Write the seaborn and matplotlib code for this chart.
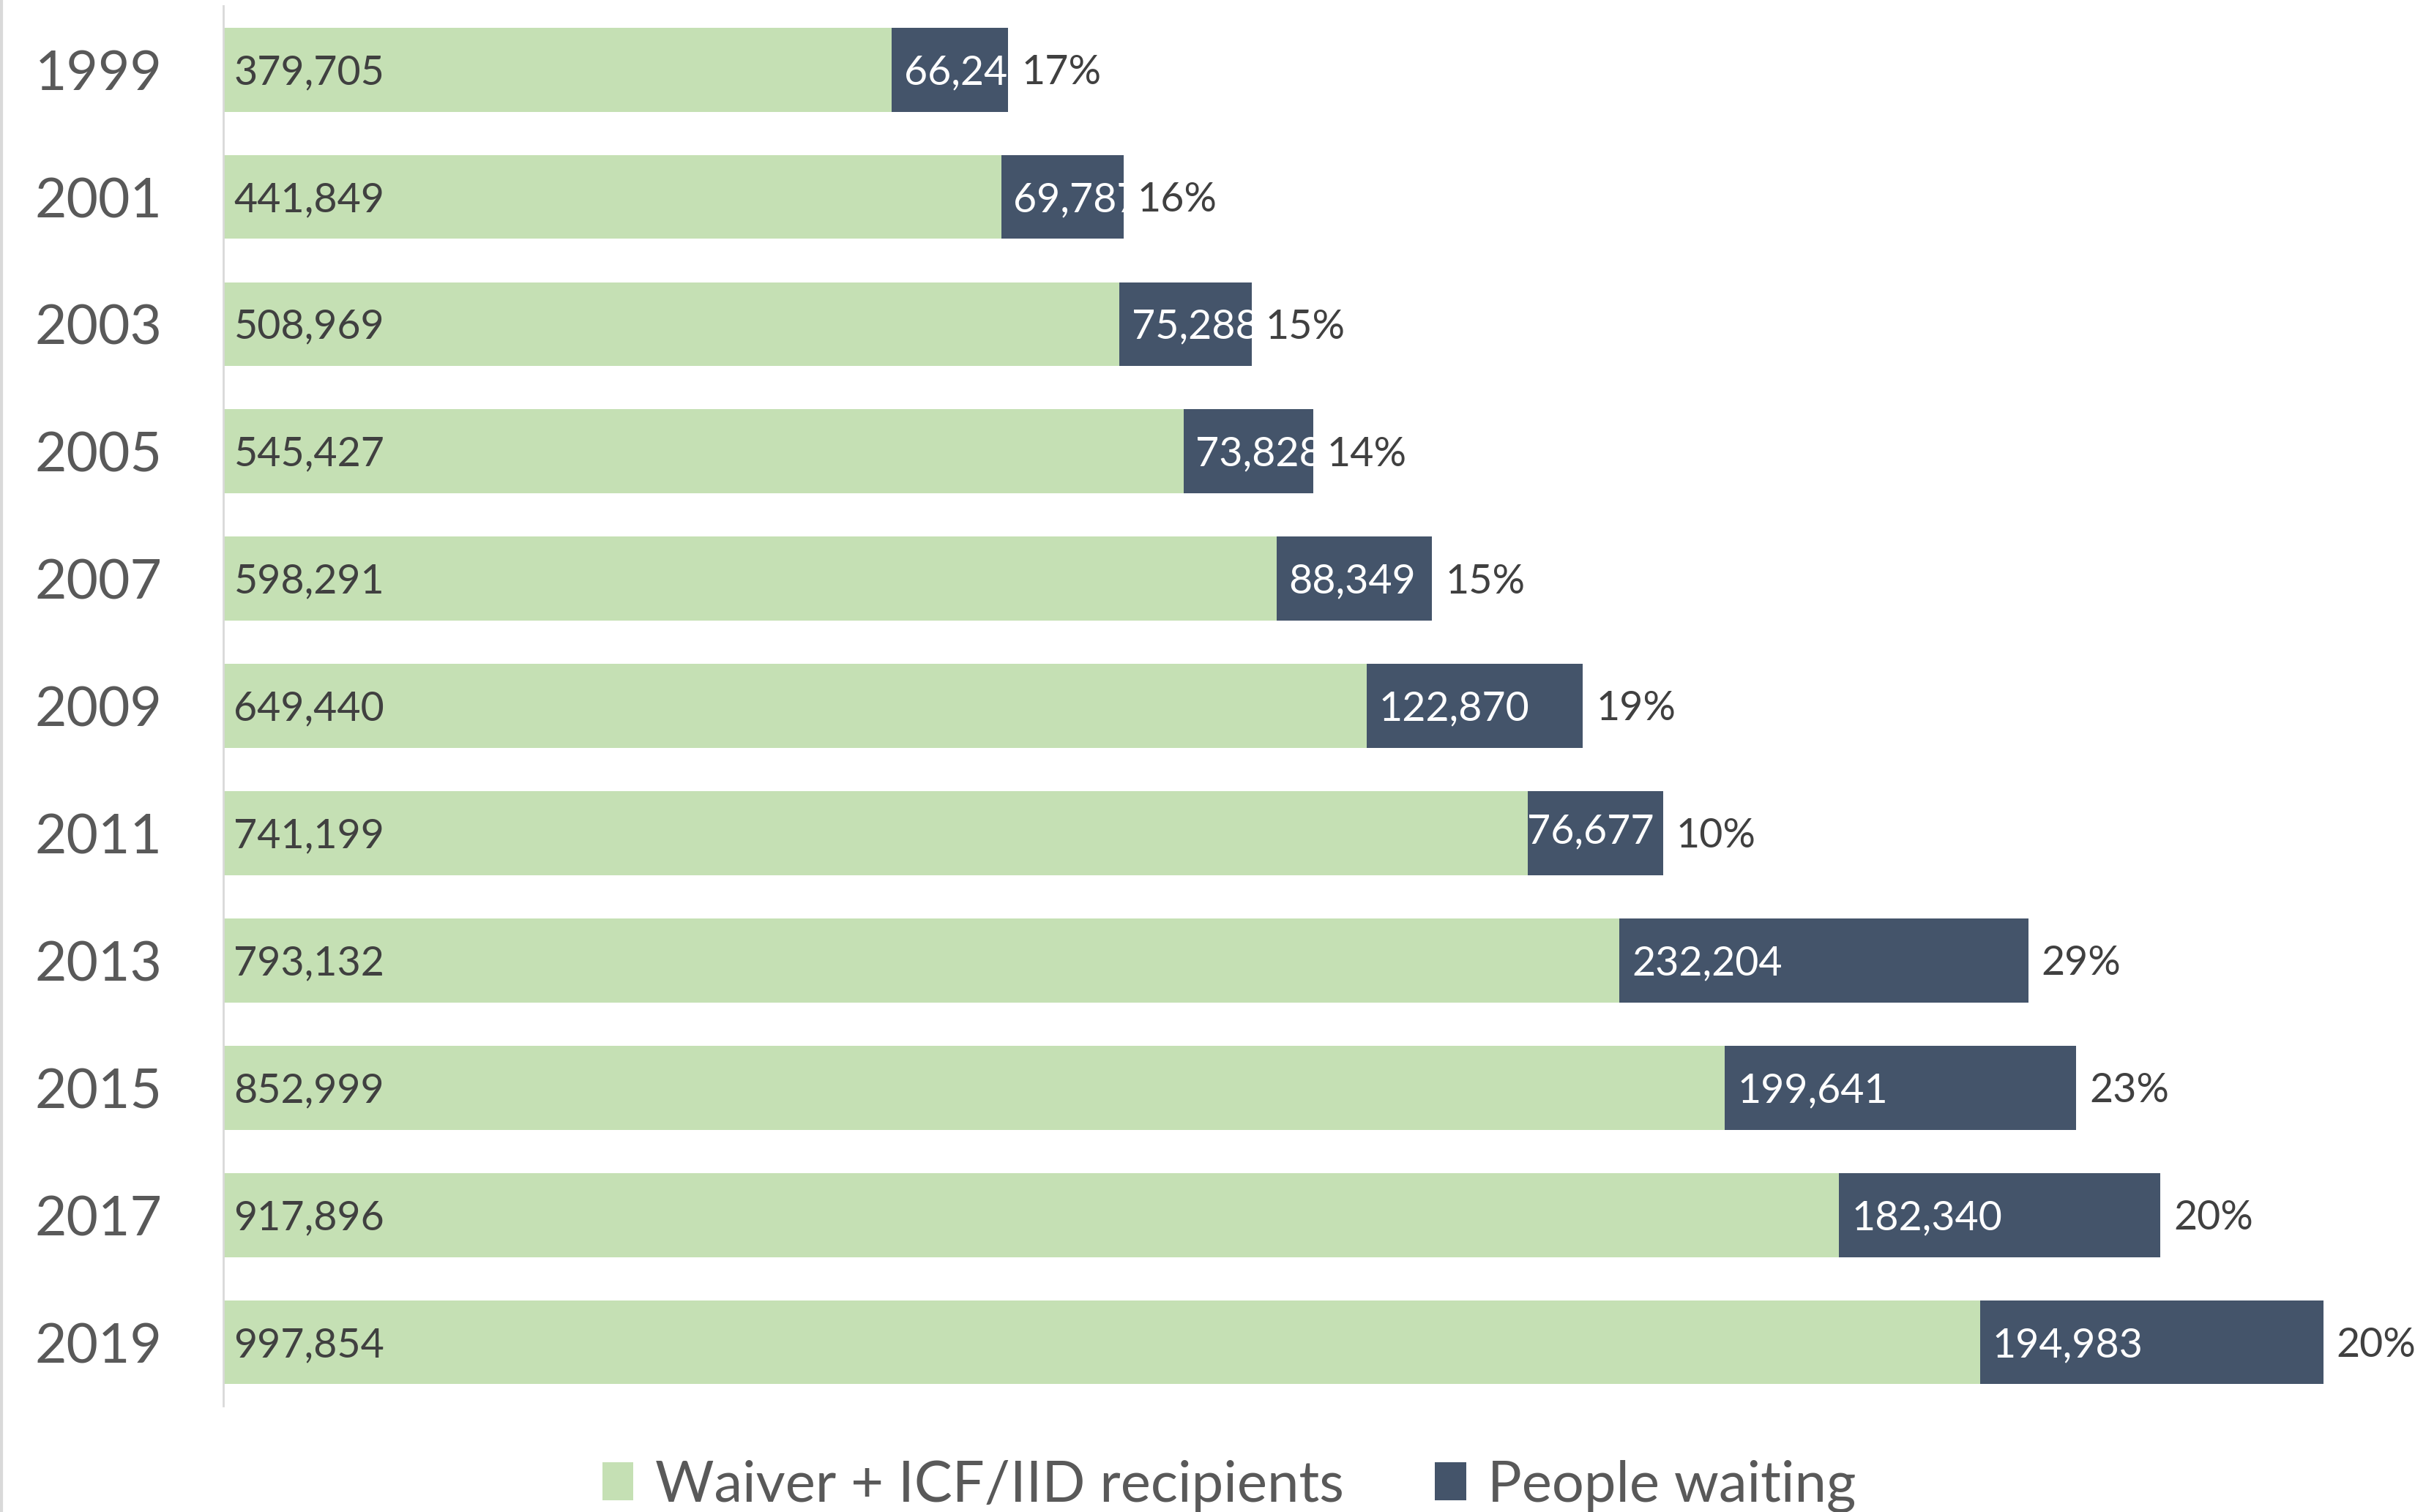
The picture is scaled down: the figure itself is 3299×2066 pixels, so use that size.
import matplotlib
matplotlib.use("Agg")
import matplotlib.pyplot as plt
from matplotlib.patches import Rectangle, Patch
from matplotlib.lines import Line2D
import seaborn as sns
import pandas as pd

years = ["1999", "2001", "2003", "2005", "2007", "2009", "2011", "2013", "2015", "2017", "2019"]
recipients = [379705, 441849, 508969, 545427, 598291, 649440, 741199, 793132, 852999, 917896, 997854]
waiting = [66246, 69787, 75288, 73828, 88349, 122870, 76677, 232204, 199641, 182340, 194983]
pct_labels = ["17%", "16%", "15%", "14%", "15%", "19%", "10%", "29%", "23%", "20%", "20%"]
series_names = ["Waiver + ICF/IID recipients", "People waiting"]

GREEN = "#c5e0b4"
DARK = "#44546a"
TXT = "#404040"
GREY = "#595959"

sns.set_theme(style="white")
plt.rcParams["font.family"] = ["Lato", "DejaVu Sans"]

df = pd.DataFrame({"year": years, "recipients": recipients, "waiting": waiting})
df["total"] = df["recipients"] + df["waiting"]

fig = plt.figure(figsize=(32.99, 20.66), dpi=100)
ax = fig.add_axes([305 / 3299, 0.0702, 1 - 305 / 3299, 0.9258])

sns.barplot(data=df, y="year", x="total", order=years, color=DARK, saturation=1,
            width=0.66, ax=ax, orient="h", linewidth=0)
sns.barplot(data=df, y="year", x="recipients", order=years, color=GREEN, saturation=1,
            width=0.66, ax=ax, orient="h", linewidth=0)

ax.set_xlim(0, 1245000)
ax.set_ylim(10.5, -0.5)
ax.set_xlabel("")
ax.set_ylabel("")
ax.set_xticks([])
for s in ["top", "right", "bottom"]:
    ax.spines[s].set_visible(False)
ax.spines["left"].set_color("#d9d9d9")
ax.spines["left"].set_linewidth(2)
ax.tick_params(axis="y", length=0, pad=60, labelsize=54, labelcolor=GREY)

half = 0.33
yo = 0.025
for i, (r, w, p) in enumerate(zip(recipients, waiting, pct_labels)):
    ax.text(6000, i + yo, f"{r:,}", va="center", ha="left", fontsize=40, color=TXT)
    dx = 7000 if years[i] != "2011" else -800
    dy = yo if years[i] != "2011" else -0.01
    t = ax.text(r + dx, i + dy, f"{w:,}", va="center", ha="left", fontsize=40, color="white")
    clip = Rectangle((r, i - half), w, 2 * half, transform=ax.transData)
    t.set_clip_path(clip)
    ax.text(r + w + 7500, i + yo, p, va="center", ha="left", fontsize=40, color=TXT)

handles = [Patch(facecolor=GREEN, edgecolor="none"), Patch(facecolor=DARK, edgecolor="none")]
fig.legend(handles, series_names, loc="center", bbox_to_anchor=(0.509, 0.017),
           ncol=2, frameon=False, fontsize=56, labelcolor=GREY,
           handlelength=0.55, handleheight=0.65, handletextpad=0.38, columnspacing=1.6,
           borderpad=0)

fig.add_artist(Line2D([2 / 3299, 2 / 3299], [0, 1], transform=fig.transFigure,
                      color="#d9d9d9", linewidth=3))

fig.savefig("out.png", dpi=100, facecolor="white")
